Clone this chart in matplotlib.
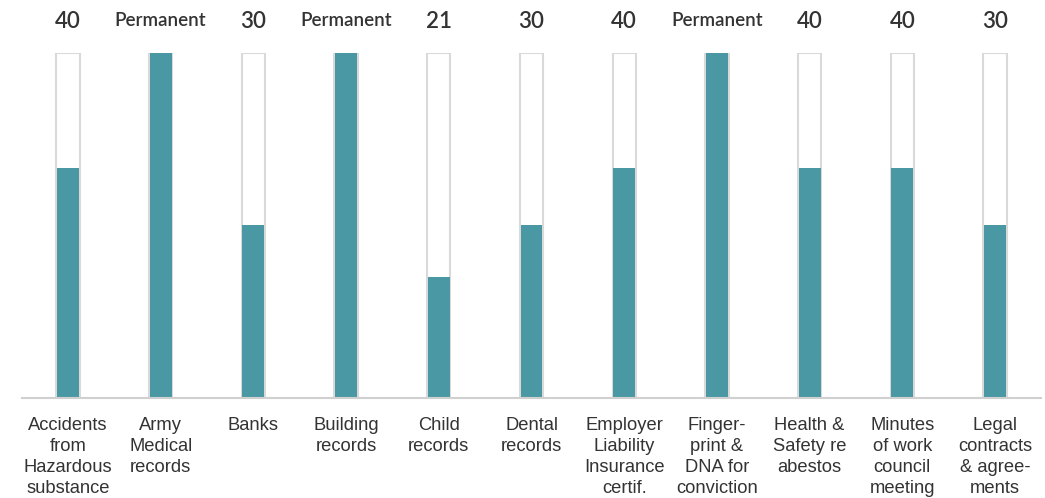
import matplotlib
matplotlib.use("Agg")
import matplotlib.pyplot as plt
import matplotlib.transforms as mtrans

categories = ["Accidents\nfrom\nHazardous\nsubstance", "Army\nMedical\nrecords", "Banks",
              "Building\nrecords", "Child\nrecords", "Dental\nrecords",
              "Employer\nLiability\nInsurance\ncertif.", "Finger-\nprint &\nDNA for\nconviction",
              "Health &\nSafety re\nabestos", "Minutes\nof work\ncouncil\nmeeting",
              "Legal\ncontracts\n& agree-\nments"]
values = [40, 60, 30, 60, 21, 30, 40, 60, 40, 40, 30]
value_labels = ["40", "Permanent", "30", "Permanent", "21", "30", "40", "Permanent", "40", "40", "30"]
max_value = 60

teal = "#4a98a4"

fig = plt.figure(figsize=(10.45, 4.98), dpi=100)
ax = fig.add_axes([21.6/1045, 1 - 398/498, (1041.4-21.6)/1045, (398-53)/498])

x = list(range(len(categories)))
ax.bar(x, [max_value]*len(x), width=0.25, color="white", edgecolor="#d9d9d9", linewidth=1.5, zorder=1)
ax.bar(x, values, width=0.235, color=teal, edgecolor="none", zorder=2)

ax.set_xlim(-0.5, len(x) - 0.5)
ax.set_ylim(0, max_value)
for s in ["top", "right", "left"]:
    ax.spines[s].set_visible(False)
ax.spines["bottom"].set_color("#d0d0d0")
ax.spines["bottom"].set_linewidth(1.5)
ax.set_yticks([])
ax.set_xticks(x)
ax.set_xticklabels(categories, fontsize=13.2, family="Liberation Sans", color="#333333",
                   linespacing=1.32, va="top")
ax.tick_params(axis="x", length=0, pad=13.5)

offset = mtrans.ScaledTranslation(0, 32/100, fig.dpi_scale_trans)
for xi, lab in zip(x, value_labels):
    perm = lab == "Permanent"
    ax.text(xi, max_value, lab, transform=ax.transData + offset, ha="center", va="center",
            fontsize=13.5 if perm else 16, family="Lato",
            fontweight="semibold", color="#333333")

fig.savefig("out.png", dpi=100, facecolor="white")
